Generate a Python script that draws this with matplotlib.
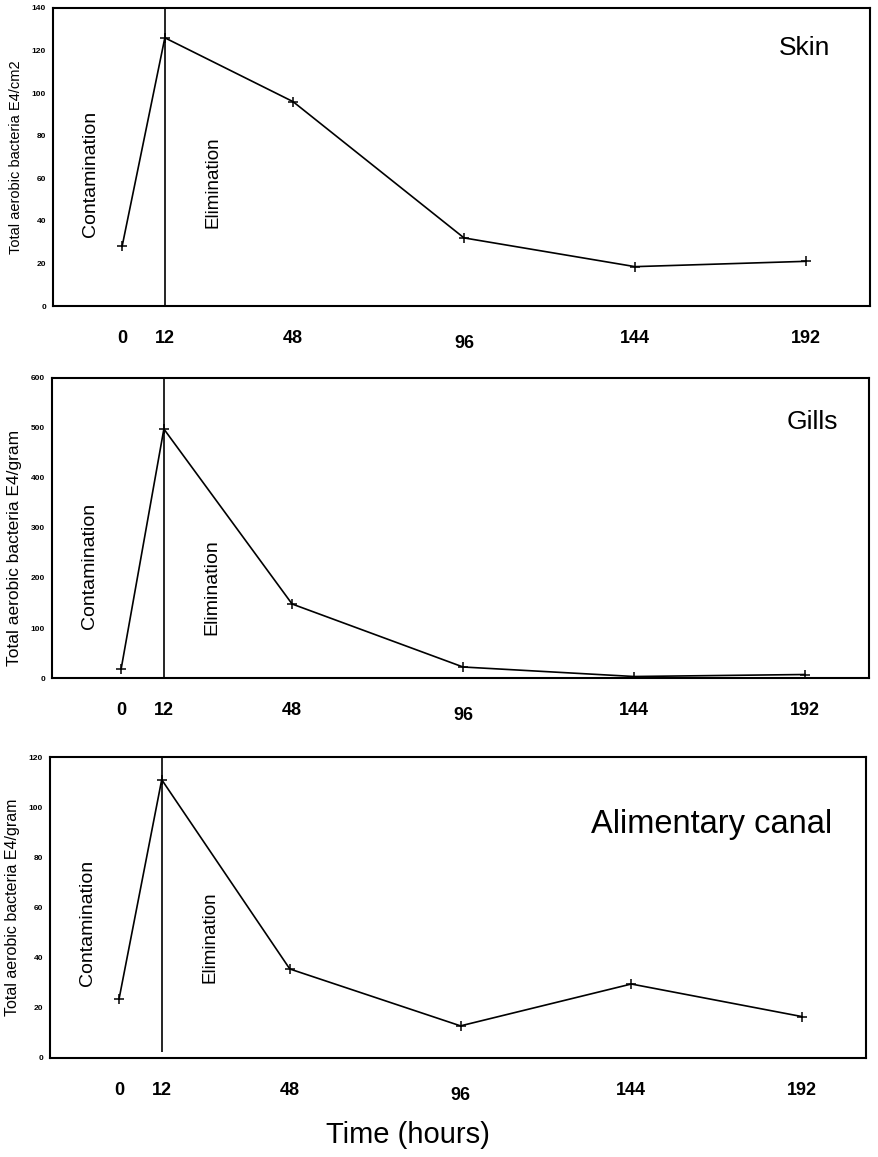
"""
Bacteria load over time in skin, gills and alimentary canal (contamination then elimination).
"""
import matplotlib
matplotlib.use('Agg')
import matplotlib.pyplot as plt
from matplotlib.transforms import ScaledTranslation

# Defaults
plt.rcParams['font.family'] = ['Liberation Sans', 'DejaVu Sans']

# Data
hours = [0, 12, 48, 96, 144, 192]
hour_labels = ['0', '12', '48', '96', '144', '192']
skin = [28, 126, 96, 32, 18.5, 21]
gills = [18, 498, 148, 22, 3, 7]
canal = [23.5, 111, 35.5, 12.8, 29.5, 16.5]

panels = [
    # name, values, y label, ymax, ystep, title (size, x, y), ylabel (size, y), text sizes, text y, axes rect
    ('Skin', skin, 'Total aerobic bacteria E4/cm2', 140, 20, (19, 0.951, 121), (10.5, 0.5), (14, 13.5), (62, 58),
     [0.0603, 0.7355, 0.9295, 0.2576]),
    ('Gills', gills, 'Total aerobic bacteria E4/gram', 600, 100, (19, 0.962, 512), (12.5, 0.433), (14, 14), (224, 182),
     [0.0592, 0.4140, 0.9295, 0.2593]),
    ('Alimentary canal', canal, 'Total aerobic bacteria E4/gram', 120, 20, (23.5, 0.958, 93), (11.5, 0.5), (14, 13.5), (54, 48),
     [0.0569, 0.0856, 0.9284, 0.2600]),
]

fig = plt.figure(figsize=(8.79, 11.57), dpi=100)

for i, (name, vals, ylab, ymax, ystep, (tsize, tx, ty), (lsize, ly), (csize, esize), (cy, ey), rect) in enumerate(panels):
    ax = fig.add_axes(rect)
    ax.plot(hours, vals, color='black', lw=1.2, marker='+', ms=7, mew=1.1)

    # line separating contamination from elimination
    if i == 2:
        ax.vlines(12, 2.5, ymax, color='black', lw=1.2)
    else:
        ax.vlines(12, 0, ymax, color='black', lw=1.2)

    ax.set_xlim(-19.4, 210)
    ax.set_ylim(0, ymax)
    ax.set_xticks(hours)
    ax.set_xticklabels(hour_labels, fontsize=13, fontweight='bold')
    ax.set_yticks(range(0, ymax + 1, ystep))
    ax.set_yticklabels([str(v) for v in range(0, ymax + 1, ystep)], fontsize=6, fontweight='bold')
    ax.tick_params(axis='x', length=0, pad=17)
    ax.tick_params(axis='y', length=0, pad=5)
    # the 96 label sits a little lower in the original
    lab = ax.get_xticklabels()[3]
    lab.set_transform(lab.get_transform() + ScaledTranslation(0, -4 / 72, fig.dpi_scale_trans))
    for s in ax.spines.values():
        s.set_linewidth(1.5)

    ax.set_ylabel(ylab, fontsize=lsize)
    ax.yaxis.set_label_coords(-0.037, ly)

    ax.text(-8.8, cy, 'Contamination', rotation=90, fontsize=csize, ha='center', va='center')
    ax.text(25.5, ey, 'Elimination', rotation=90, fontsize=esize, ha='center', va='center')
    ax.text(tx, ty / ymax, name, transform=ax.transAxes, fontsize=tsize, ha='right', va='center')

fig.text(0.464, 0.019, 'Time (hours)', fontsize=21, ha='center', va='center')

fig.savefig('out.png', dpi=100)
